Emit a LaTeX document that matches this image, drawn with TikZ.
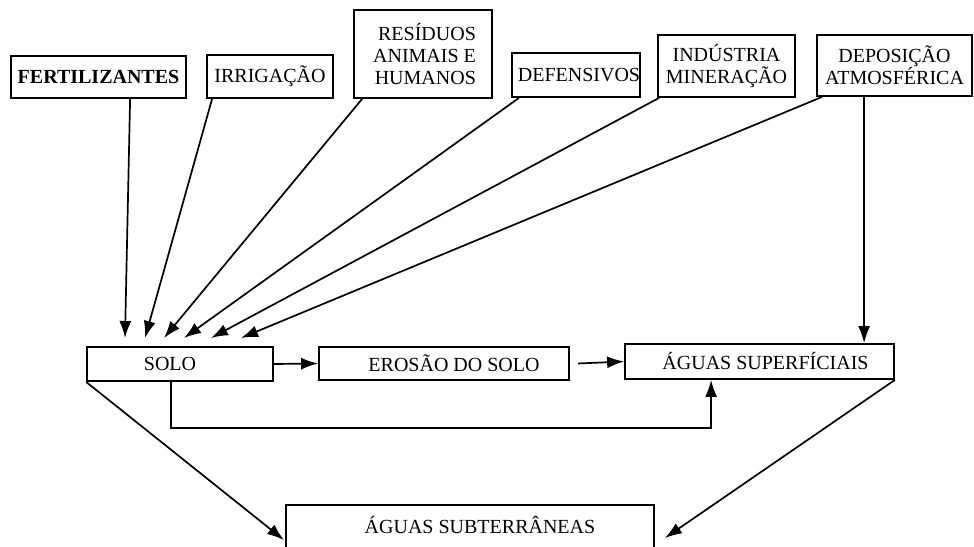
\documentclass[tikz,border=0pt]{standalone}
\usepackage{fontspec}
\setmainfont{Liberation Serif}
\usetikzlibrary{arrows.meta,calc}
\begin{document}
\begin{tikzpicture}[x=1pt,y=-1pt,
  box/.style={draw,line width=1.8pt,rectangle,inner sep=0pt,font=\fontsize{20}{22}\selectfont,align=center},
  lbl/.style={inner sep=0pt,font=\fontsize{20}{22}\selectfont},
  arr/.style={line width=1.7pt,-{Latex[length=17pt,width=12pt]}}]
\useasboundingbox (0,0) rectangle (974,546);
% top boxes
\node[box,minimum width=175pt,minimum height=42pt] (fert) at (98.5,77) {\bfseries FERTILIZANTES};
\node[box,minimum width=126pt,minimum height=43pt] (irr) at (270,76.5) {IRRIGAÇÃO};
\node[box,minimum width=138pt,minimum height=88pt,align=right] (res) at (423,54) {\hspace*{8pt}RESÍDUOS\\ANIMAIS E\\HUMANOS};
\node[box,minimum width=128pt,minimum height=44pt] (def) at (576,75) {\hspace*{6pt}DEFENSIVOS};
\node[box,minimum width=137pt,minimum height=62pt] (ind) at (726.5,66) {INDÚSTRIA\\MINERAÇÃO};
\node[box,minimum width=155pt,minimum height=61pt] (dep) at (894.5,65.5) {DEPOSIÇÃO\\ATMOSFÉRICA};
% middle boxes
\node[box,minimum width=186pt,minimum height=34pt] (solo) at (180,364) {\hspace*{-20pt}SOLO};
\node[box,minimum width=250pt,minimum height=33pt] (ero) at (444,363.5) {\hspace*{20pt}EROSÃO DO SOLO};
\node[box,minimum width=269pt,minimum height=35pt] (sup) at (759.5,361.5) {\hspace*{12pt}ÁGUAS SUPERFÍCIAIS};
% bottom box (cut by the page edge)
\node[lbl] (sub) at (480,525) {ÁGUAS SUBTERRÂNEAS};
\coordinate (subL) at (286,505);
\coordinate (subR) at (654,505);
\draw[line width=1.8pt] ($(subL)+(0,45)$) -- (subL) -- (subR) -- ($(subR)+(0,45)$);
% arrow targets above SOLO
\coordinate (t1) at (125,338);
\coordinate (t2) at (145,338);
\coordinate (t3) at (164,338);
\coordinate (t4) at (184,338);
\coordinate (t5) at (211,338);
\coordinate (t6) at (241,338);
\coordinate (t7) at (284,540);
\coordinate (t8) at (665,538);
% inputs to SOLO
\draw[arr] ($(fert.south west)+(120,0)$) -- (t1);
\draw[arr] ($(irr.south west)+(6,0)$) -- (t2);
\draw[arr] ($(res.south west)+(9,0)$) -- (t3);
\draw[arr] ($(def.south west)+(8,0)$) -- (t4);
\draw[arr] ($(ind.south west)+(2,0)$) -- (t5);
\draw[arr] ($(dep.south west)+(6,0)$) -- (t6);
% deposition to surface waters
\draw[arr] ($(dep.south west)+(48,0)$) coordinate (d7) -- (d7 |- sup.north);
% horizontal flow
\draw[arr] (solo.east) -- (ero.west);
\draw[arr] ($(ero.east)+(8,0)$) -- (sup.west);
% solo to surface waters (bottom route)
\draw[arr] ($(solo.south west)+(85,0)$) -- ++(0,46) -| ($(sup.south west)+(87,0)$);
% to groundwater
\draw[arr] (solo.south west) -- (t7);
\draw[arr] (sup.south east) -- (t8);
\end{tikzpicture}
\end{document}
